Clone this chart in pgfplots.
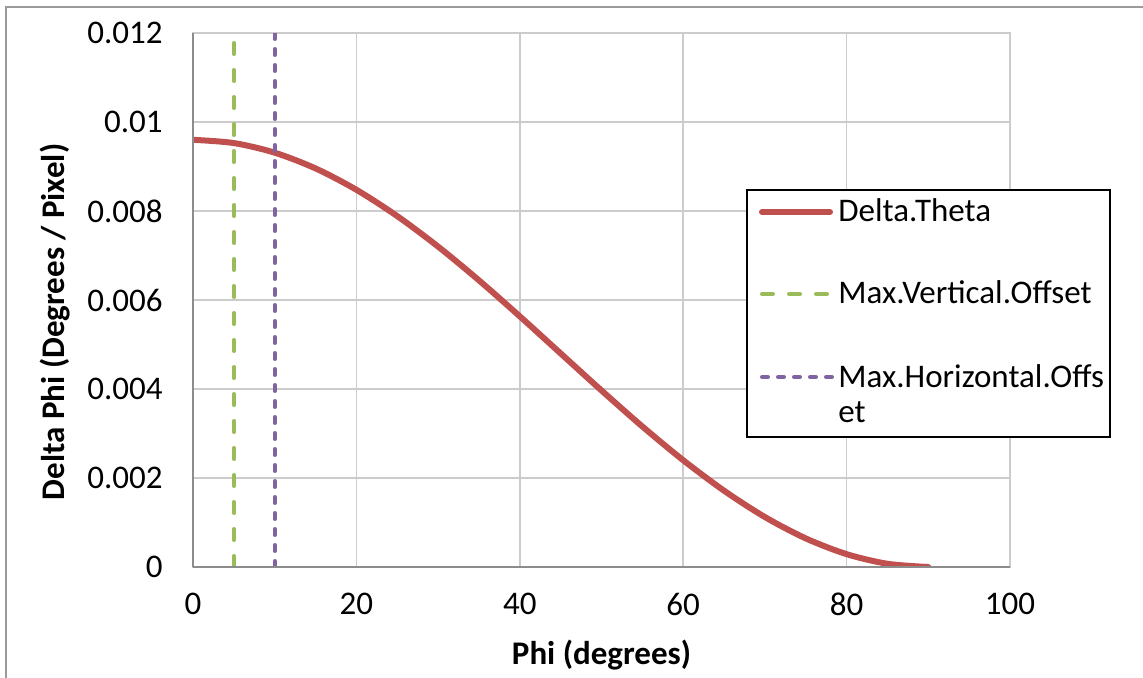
\documentclass[border=0pt]{standalone}
\usepackage{fontspec}
\setmainfont{Carlito}
\usepackage{pgfplots}
\pgfplotsset{compat=1.18}
\definecolor{cRed}{HTML}{C0504D}
\definecolor{cGreen}{HTML}{9BBB59}
\definecolor{cPurple}{HTML}{8064A2}
\definecolor{gridc}{HTML}{CCCCCC}
\definecolor{axc}{HTML}{8C8C8C}
\definecolor{framec}{HTML}{9A9A9A}
\begin{document}
\begin{tikzpicture}[x=1pt,y=1pt]
\useasboundingbox (0,0) rectangle (571.5,338.5);
\draw[color=framec, line width=0.8pt] (3,-20) -- (3,335) -- (600,335);
\begin{axis}[
  at={(96.5pt,55pt)}, anchor=south west,
  scale only axis, width=408.5pt, height=267pt,
  xmin=0, xmax=100, ymin=0, ymax=0.012,
  scaled y ticks=false, scaled x ticks=false,
  xtick={0,20,40,60,80,100},
  ytick={0,0.002,0.004,0.006,0.008,0.01,0.012},
  yticklabels={0,0.002,0.004,0.006,0.008,0.01,0.012},
  xticklabels={0,20,40,60,80,100},
  major tick length=0pt,
  grid=major,
  grid style={gridc, line width=0.8pt},
  axis line style={gridc, line width=0.8pt},
  font=\fontsize{16.5}{19.5}\selectfont,
  tick label style={font=\fontsize{16.5}{19.5}\selectfont, inner sep=0pt},
  xticklabel style={yshift=-13pt},
  yticklabel style={xshift=-15pt},
  /pgf/number format/assume math mode=true,
  xlabel={\textbf{Phi (degrees)}},
  ylabel={\textbf{Delta Phi (Degrees / Pixel)}},
  xlabel style={at={(axis description cs:0.5,-0.165)}, anchor=center},
  ylabel style={at={(axis description cs:-0.169,0.459)}, anchor=center},
]
\addplot[cRed, line width=3pt, smooth, line cap=round] coordinates {
(0,0.009600) (5,0.009527) (10,0.009311) (15,0.008957) (20,0.008477)
(25,0.007885) (30,0.007200) (35,0.006442) (40,0.005633) (45,0.004800)
(50,0.003967) (55,0.003158) (60,0.002400) (65,0.001715) (70,0.001123)
(75,0.000643) (80,0.000289) (85,0.000073) (90,0.000000)
};
\addplot[cGreen, line width=2pt, line cap=round, dash pattern=on 5.5pt off 8pt] coordinates {(5,0) (5,0.012)};
\addplot[cPurple, line width=2pt, line cap=round, dash pattern=on 3pt off 5pt] coordinates {(10,0) (10,0.012)};
\end{axis}
\draw[color=axc, line width=0.8pt] (96.5,55) -- (505,55);
\draw[color=axc, line width=0.8pt] (96.5,55) -- (96.5,322);
% legend
\draw[black, line width=0.8pt, fill=white] (373.5,243.5) rectangle (555,120);
\draw[cRed, line width=3pt, line cap=round] (381,232.5) -- (415,232.5);
\draw[cGreen, line width=2pt, line cap=round, dash pattern=on 5.5pt off 8pt] (381,191.5) -- (416,191.5);
\draw[cPurple, line width=2pt, line cap=round, dash pattern=on 3pt off 5pt] (381,150) -- (416,150);
\begin{scope}[every node/.style={anchor=base west, inner sep=0pt, font=\fontsize{16.5}{19.5}\selectfont}]
\node at (419,228) {Delta.Theta};
\node at (419,187) {Max.Vertical.Offset};
\node at (419,145) {Max.Horizontal.Offs};
\node at (419,127.5) {et};
\end{scope}
\end{tikzpicture}
\end{document}
